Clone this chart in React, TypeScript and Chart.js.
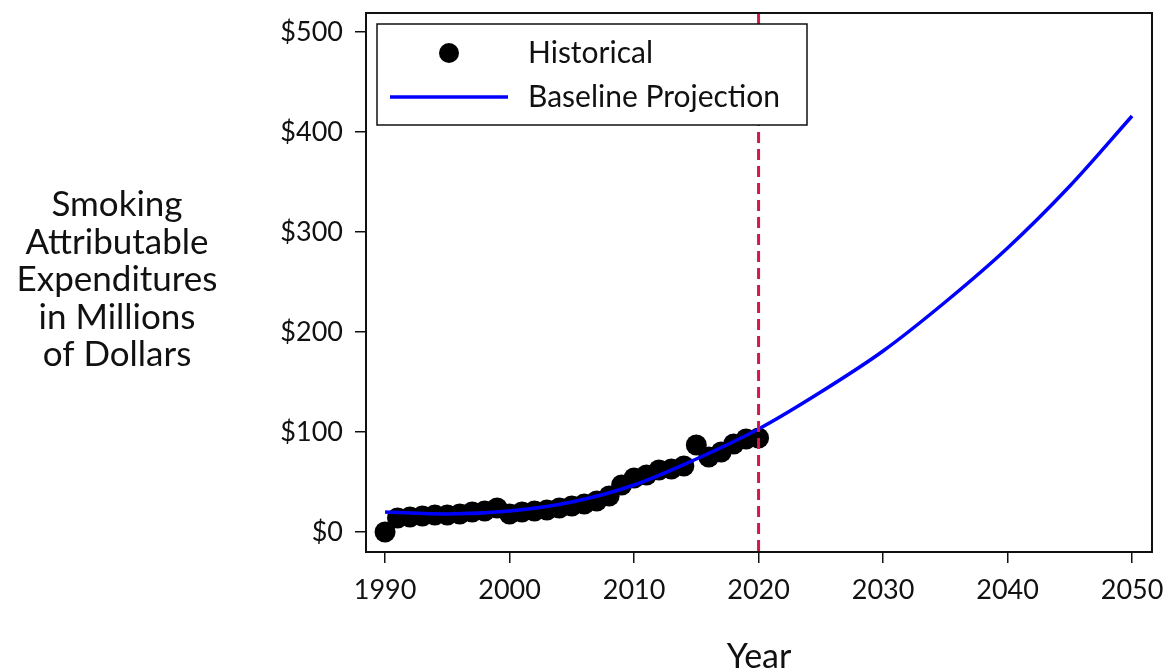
import React, { useEffect, useRef } from "react";
import { Chart, registerables } from "chart.js";

Chart.register(...registerables);

// ---- data ----
const historicalYears = [
  1990, 1991, 1992, 1993, 1994, 1995, 1996, 1997, 1998, 1999, 2000, 2001, 2002, 2003, 2004, 2005,
  2006, 2007, 2008, 2009, 2010, 2011, 2012, 2013, 2014, 2015, 2016, 2017, 2018, 2019, 2020,
];
const historicalValues = [
  0, 14, 15, 16, 17, 17, 18, 20, 21, 24, 18, 20, 21, 22, 24, 26,
  28, 31, 36, 47, 54, 57, 62, 63, 66, 87, 75, 80, 88, 93, 94,
];
const projectionYears = [1990, 1995, 2000, 2005, 2010, 2015, 2020, 2025, 2030, 2035, 2040, 2045, 2050];
const projectionValues = [20, 18, 21, 30, 47, 73, 103, 140, 181, 230, 284, 346, 416];

const xTickValues = [1990, 2000, 2010, 2020, 2030, 2040, 2050];
const yTickValues = [0, 100, 200, 300, 400, 500];
const dividerYear = 2020;

const yTitleLines = ["Smoking", "Attributable", "Expenditures", "in Millions", "of Dollars"];
const xTitle = "Year";
const legendLabels = ["Historical", "Baseline Projection"];

const FONT = "Lato, 'Open Sans', sans-serif";

export default function App() {
  const ref = useRef<HTMLCanvasElement | null>(null);

  useEffect(() => {
    if (!ref.current) return;

    const overlay = {
      id: "overlay",
      afterDatasetsDraw(chart: any) {
        const { ctx, chartArea, scales } = chart;
        const x = scales.x.getPixelForValue(dividerYear);
        ctx.save();
        ctx.strokeStyle = "#d4174c";
        ctx.lineWidth = 3;
        ctx.setLineDash([11, 6]);
        ctx.beginPath();
        ctx.moveTo(x, chartArea.top);
        ctx.lineTo(x, chartArea.bottom);
        ctx.stroke();
        ctx.restore();
      },
      afterDraw(chart: any) {
        const { ctx, chartArea } = chart;
        const { left, top, right, bottom } = chartArea;
        ctx.save();
        // plot frame
        ctx.strokeStyle = "#111";
        ctx.lineWidth = 2;
        ctx.setLineDash([]);
        ctx.strokeRect(left, top, right - left, bottom - top);

        // legend
        const lx = left + 11;
        const ly = top + 11;
        const lw = 430;
        const lh = 101;
        ctx.fillStyle = "#fff";
        ctx.fillRect(lx, ly, lw, lh);
        ctx.strokeStyle = "#111";
        ctx.lineWidth = 1.5;
        ctx.strokeRect(lx, ly, lw, lh);

        ctx.fillStyle = "#000";
        ctx.beginPath();
        ctx.arc(left + 83, top + 40, 10, 0, Math.PI * 2);
        ctx.fill();

        ctx.strokeStyle = "#0000ff";
        ctx.lineWidth = 3.5;
        ctx.beginPath();
        ctx.moveTo(left + 24, top + 84);
        ctx.lineTo(left + 142, top + 84);
        ctx.stroke();

        ctx.fillStyle = "#111";
        ctx.font = `30px ${FONT}`;
        ctx.textAlign = "left";
        ctx.textBaseline = "middle";
        ctx.fillText(legendLabels[0], left + 162, top + 40);
        ctx.fillText(legendLabels[1], left + 162, top + 84);

        // y title (horizontal, multi-line)
        ctx.font = `35px ${FONT}`;
        ctx.textAlign = "center";
        ctx.textBaseline = "alphabetic";
        const baselines = [216, 254, 291, 329, 366];
        yTitleLines.forEach((t, i) => ctx.fillText(t, 117, baselines[i]));
        ctx.restore();
      },
    };

    const chart = new Chart(ref.current, {
      type: "scatter",
      data: {
        datasets: [
          {
            label: legendLabels[1],
            type: "line",
            data: projectionYears.map((x, i) => ({ x, y: projectionValues[i] })),
            borderColor: "#0000ff",
            borderWidth: 3.5,
            pointRadius: 0,
            cubicInterpolationMode: "monotone",
            fill: false,
          } as any,
          {
            label: legendLabels[0],
            data: historicalYears.map((x, i) => ({ x, y: historicalValues[i] })),
            backgroundColor: "#000",
            borderWidth: 0,
            pointRadius: 10.5,
            pointHoverRadius: 10.5,
          },
        ],
      },
      options: {
        animation: false,
        responsive: true,
        maintainAspectRatio: false,
        layout: { padding: { top: 13, right: 16, left: 0, bottom: 0 } },
        plugins: { legend: { display: false }, tooltip: { enabled: false } },
        scales: {
          x: {
            type: "linear",
            min: 1988.47,
            max: 2051.6,
            afterBuildTicks: (s: any) => {
              s.ticks = xTickValues.map((v) => ({ value: v }));
            },
            afterFit: (s: any) => {
              s.height = 118;
              s.paddingLeft = 0;
              s.paddingRight = 0;
            },
            grid: {
              drawOnChartArea: false,
              drawTicks: true,
              tickLength: 11,
              color: "#111",
              lineWidth: 1.5,
            },
            border: { display: false },
            ticks: {
              color: "#111",
              font: { family: FONT, size: 27 },
              padding: 11,
              maxRotation: 0,
              callback: (v: any) => String(v),
            },
            title: {
              display: true,
              text: xTitle,
              color: "#111",
              font: { family: FONT, size: 34, lineHeight: 0.75 },
              padding: { top: 0, bottom: 0 },
            },
          },
          y: {
            type: "linear",
            min: -20,
            max: 519,
            afterBuildTicks: (s: any) => {
              s.ticks = yTickValues.map((v) => ({ value: v }));
            },
            afterFit: (s: any) => {
              s.width = 366;
              s.paddingTop = 0;
              s.paddingBottom = 0;
            },
            grid: {
              drawOnChartArea: false,
              drawTicks: true,
              tickLength: 11,
              color: "#111",
              lineWidth: 1.5,
            },
            border: { display: false },
            ticks: {
              color: "#111",
              font: { family: FONT, size: 27 },
              padding: 12,
              callback: (v: any) => "$" + v,
            },
          },
        },
      },
      plugins: [overlay],
    });

    return () => chart.destroy();
  }, []);

  return (
    <div style={{ position: "absolute", left: 0, top: 0, width: 1168, height: 670, background: "#fff" }}>
      <canvas ref={ref} />
    </div>
  );
}
